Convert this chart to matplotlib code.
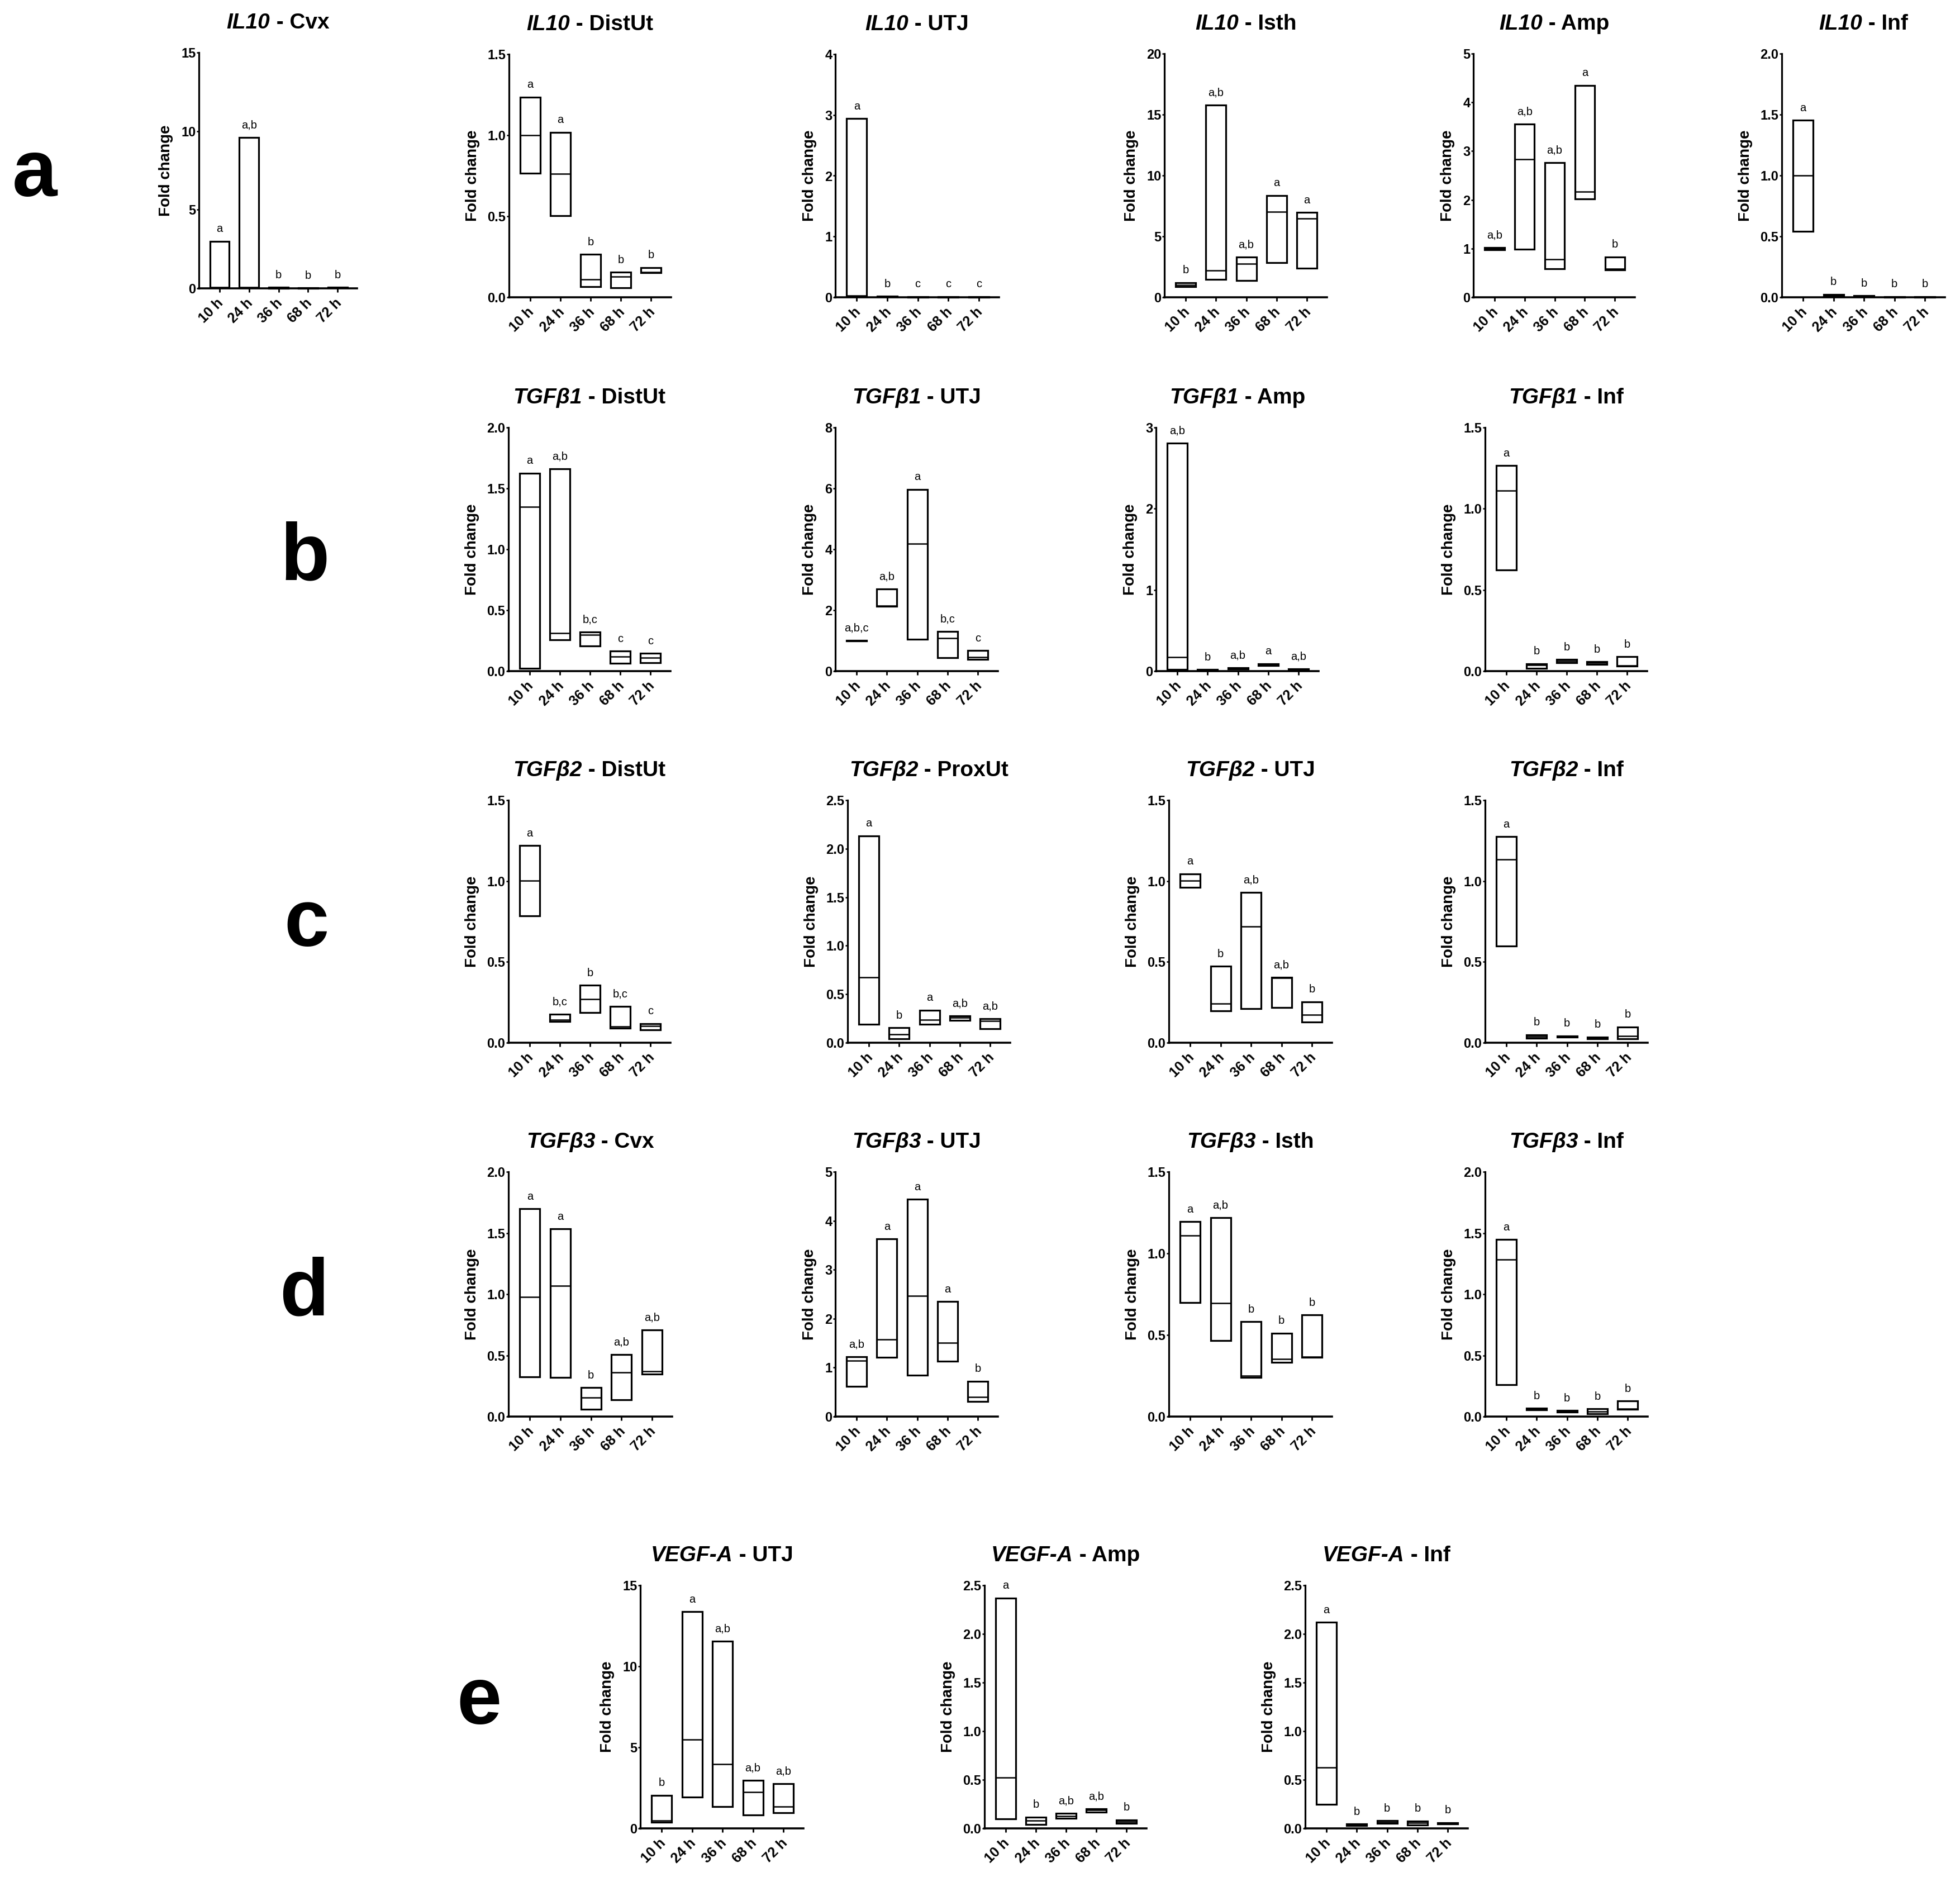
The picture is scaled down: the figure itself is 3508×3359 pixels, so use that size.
import numpy as np
import matplotlib
matplotlib.use('Agg')
import matplotlib.pyplot as plt
from matplotlib.patches import Rectangle
from matplotlib.transforms import ScaledTranslation

# ---------------- data ----------------
times = ['10 h', '24 h', '36 h', '68 h', '72 h']

il10_cvx_lo = [0.05, 0.05, 0.0, 0.01, 0.02]
il10_cvx_med = [0.08, 0.08, 0.02, 0.02, 0.04]
il10_cvx_hi = [3.0, 9.6, 0.06, 0.03, 0.06]
il10_cvx_sig = ['a', 'a,b', 'b', 'b', 'b']

il10_distut_lo = [0.766, 0.505, 0.064, 0.057, 0.150]
il10_distut_med = [1.0, 0.763, 0.112, 0.126, 0.155]
il10_distut_hi = [1.235, 1.018, 0.265, 0.155, 0.183]
il10_distut_sig = ['a', 'a', 'b', 'b', 'b']

il10_utj_lo = [0.01, 0.005, 0.004, 0.004, 0.004]
il10_utj_med = [0.03, 0.01, 0.008, 0.008, 0.008]
il10_utj_hi = [2.94, 0.015, 0.012, 0.012, 0.012]
il10_utj_sig = ['a', 'b', 'c', 'c', 'c']

il10_isth_lo = [0.85, 1.48, 1.39, 2.85, 2.38]
il10_isth_med = [1.0, 2.2, 2.76, 7.0, 6.49]
il10_isth_hi = [1.2, 15.8, 3.29, 8.37, 6.95]
il10_isth_sig = ['b', 'a,b', 'a,b', 'a', 'a']

il10_amp_lo = [0.97, 0.99, 0.585, 2.02, 0.56]
il10_amp_med = [1.0, 2.83, 0.78, 2.17, 0.59]
il10_amp_hi = [1.02, 3.56, 2.76, 4.35, 0.83]
il10_amp_sig = ['a,b', 'a,b', 'a,b', 'a', 'b']

il10_inf_lo = [0.542, 0.005, 0.004, 0.002, 0.002]
il10_inf_med = [1.0, 0.012, 0.008, 0.004, 0.004]
il10_inf_hi = [1.452, 0.025, 0.013, 0.006, 0.006]
il10_inf_sig = ['a', 'b', 'b', 'b', 'b']

tgfb1_distut_lo = [0.024, 0.259, 0.205, 0.065, 0.069]
tgfb1_distut_med = [1.347, 0.314, 0.296, 0.118, 0.111]
tgfb1_distut_hi = [1.625, 1.661, 0.319, 0.163, 0.145]
tgfb1_distut_sig = ['a', 'a,b', 'b,c', 'c', 'c']

tgfb1_utj_lo = [0.99, 2.125, 1.05, 0.435, 0.384]
tgfb1_utj_med = [1.0, 2.15, 4.18, 1.09, 0.457]
tgfb1_utj_hi = [1.01, 2.69, 5.97, 1.305, 0.674]
tgfb1_utj_sig = ['a,b,c', 'a,b', 'a', 'b,c', 'c']

tgfb1_amp_lo = [0.022, 0.008, 0.03, 0.07, 0.012]
tgfb1_amp_med = [0.172, 0.012, 0.035, 0.08, 0.018]
tgfb1_amp_hi = [2.81, 0.02, 0.04, 0.09, 0.025]
tgfb1_amp_sig = ['a,b', 'b', 'a,b', 'a', 'a,b']

tgfb1_inf_lo = [0.622, 0.018, 0.052, 0.042, 0.031]
tgfb1_inf_med = [1.111, 0.038, 0.063, 0.05, 0.035]
tgfb1_inf_hi = [1.266, 0.045, 0.072, 0.058, 0.089]
tgfb1_inf_sig = ['a', 'b', 'b', 'b', 'b']

tgfb2_distut_lo = [0.783, 0.132, 0.185, 0.09, 0.081]
tgfb2_distut_med = [1.003, 0.14, 0.269, 0.1, 0.104]
tgfb2_distut_hi = [1.219, 0.175, 0.355, 0.223, 0.118]
tgfb2_distut_sig = ['a', 'b,c', 'b', 'b,c', 'c']

tgfb2_proxut_lo = [0.192, 0.042, 0.192, 0.232, 0.146]
tgfb2_proxut_med = [0.673, 0.088, 0.234, 0.26, 0.223]
tgfb2_proxut_hi = [2.134, 0.153, 0.336, 0.274, 0.246]
tgfb2_proxut_sig = ['a', 'b', 'a', 'a,b', 'a,b']

tgfb2_utj_lo = [0.961, 0.197, 0.211, 0.218, 0.128]
tgfb2_utj_med = [1.004, 0.243, 0.718, 0.40, 0.174]
tgfb2_utj_hi = [1.044, 0.472, 0.928, 0.406, 0.253]
tgfb2_utj_sig = ['a', 'b', 'a,b', 'a,b', 'b']

tgfb2_inf_lo = [0.597, 0.028, 0.034, 0.025, 0.024]
tgfb2_inf_med = [1.132, 0.039, 0.038, 0.03, 0.042]
tgfb2_inf_hi = [1.274, 0.049, 0.042, 0.036, 0.097]
tgfb2_inf_sig = ['a', 'b', 'b', 'b', 'b']

tgfb3_cvx_lo = [0.326, 0.321, 0.06, 0.138, 0.349]
tgfb3_cvx_med = [0.978, 1.067, 0.157, 0.362, 0.368]
tgfb3_cvx_hi = [1.698, 1.534, 0.237, 0.507, 0.707]
tgfb3_cvx_sig = ['a', 'a', 'b', 'a,b', 'a,b']

tgfb3_utj_lo = [0.617, 1.206, 0.841, 1.131, 0.304]
tgfb3_utj_med = [1.136, 1.575, 2.463, 1.505, 0.397]
tgfb3_utj_hi = [1.224, 3.63, 4.44, 2.346, 0.724]
tgfb3_utj_sig = ['a,b', 'a', 'a', 'a', 'b']

tgfb3_isth_lo = [0.697, 0.466, 0.24, 0.331, 0.364]
tgfb3_isth_med = [1.108, 0.695, 0.25, 0.354, 0.367]
tgfb3_isth_hi = [1.195, 1.218, 0.581, 0.511, 0.623]
tgfb3_isth_sig = ['a', 'a,b', 'b', 'b', 'b']

tgfb3_inf_lo = [0.261, 0.055, 0.035, 0.024, 0.06]
tgfb3_inf_med = [1.285, 0.06, 0.04, 0.04, 0.065]
tgfb3_inf_hi = [1.447, 0.068, 0.048, 0.062, 0.127]
tgfb3_inf_sig = ['a', 'b', 'b', 'b', 'b']

vegfa_utj_lo = [0.38, 1.92, 1.33, 0.84, 0.955]
vegfa_utj_med = [0.49, 5.48, 3.96, 2.25, 1.36]
vegfa_utj_hi = [2.04, 13.37, 11.54, 2.95, 2.77]
vegfa_utj_sig = ['b', 'a', 'a,b', 'a,b', 'a,b']

vegfa_amp_lo = [0.098, 0.042, 0.105, 0.169, 0.054]
vegfa_amp_med = [0.522, 0.082, 0.129, 0.187, 0.07]
vegfa_amp_hi = [2.369, 0.117, 0.157, 0.204, 0.087]
vegfa_amp_sig = ['a', 'b', 'a,b', 'a,b', 'b']

vegfa_inf_lo = [0.246, 0.03, 0.05, 0.035, 0.048]
vegfa_inf_med = [0.627, 0.038, 0.065, 0.06, 0.053]
vegfa_inf_hi = [2.118, 0.045, 0.08, 0.077, 0.058]
vegfa_inf_sig = ['a', 'b', 'b', 'b', 'b']

# gene, tissue, lo, med, hi, sig, ymax, ystep
panels = [
    ('IL10', 'Cvx', il10_cvx_lo, il10_cvx_med, il10_cvx_hi, il10_cvx_sig, 15, 5),
    ('IL10', 'DistUt', il10_distut_lo, il10_distut_med, il10_distut_hi, il10_distut_sig, 1.5, 0.5),
    ('IL10', 'UTJ', il10_utj_lo, il10_utj_med, il10_utj_hi, il10_utj_sig, 4, 1),
    ('IL10', 'Isth', il10_isth_lo, il10_isth_med, il10_isth_hi, il10_isth_sig, 20, 5),
    ('IL10', 'Amp', il10_amp_lo, il10_amp_med, il10_amp_hi, il10_amp_sig, 5, 1),
    ('IL10', 'Inf', il10_inf_lo, il10_inf_med, il10_inf_hi, il10_inf_sig, 2.0, 0.5),
    ('TGF\u03b21', 'DistUt', tgfb1_distut_lo, tgfb1_distut_med, tgfb1_distut_hi, tgfb1_distut_sig, 2.0, 0.5),
    ('TGF\u03b21', 'UTJ', tgfb1_utj_lo, tgfb1_utj_med, tgfb1_utj_hi, tgfb1_utj_sig, 8, 2),
    ('TGF\u03b21', 'Amp', tgfb1_amp_lo, tgfb1_amp_med, tgfb1_amp_hi, tgfb1_amp_sig, 3, 1),
    ('TGF\u03b21', 'Inf', tgfb1_inf_lo, tgfb1_inf_med, tgfb1_inf_hi, tgfb1_inf_sig, 1.5, 0.5),
    ('TGF\u03b22', 'DistUt', tgfb2_distut_lo, tgfb2_distut_med, tgfb2_distut_hi, tgfb2_distut_sig, 1.5, 0.5),
    ('TGF\u03b22', 'ProxUt', tgfb2_proxut_lo, tgfb2_proxut_med, tgfb2_proxut_hi, tgfb2_proxut_sig, 2.5, 0.5),
    ('TGF\u03b22', 'UTJ', tgfb2_utj_lo, tgfb2_utj_med, tgfb2_utj_hi, tgfb2_utj_sig, 1.5, 0.5),
    ('TGF\u03b22', 'Inf', tgfb2_inf_lo, tgfb2_inf_med, tgfb2_inf_hi, tgfb2_inf_sig, 1.5, 0.5),
    ('TGF\u03b23', 'Cvx', tgfb3_cvx_lo, tgfb3_cvx_med, tgfb3_cvx_hi, tgfb3_cvx_sig, 2.0, 0.5),
    ('TGF\u03b23', 'UTJ', tgfb3_utj_lo, tgfb3_utj_med, tgfb3_utj_hi, tgfb3_utj_sig, 5, 1),
    ('TGF\u03b23', 'Isth', tgfb3_isth_lo, tgfb3_isth_med, tgfb3_isth_hi, tgfb3_isth_sig, 1.5, 0.5),
    ('TGF\u03b23', 'Inf', tgfb3_inf_lo, tgfb3_inf_med, tgfb3_inf_hi, tgfb3_inf_sig, 2.0, 0.5),
    ('VEGF-A', 'UTJ', vegfa_utj_lo, vegfa_utj_med, vegfa_utj_hi, vegfa_utj_sig, 15, 5),
    ('VEGF-A', 'Amp', vegfa_amp_lo, vegfa_amp_med, vegfa_amp_hi, vegfa_amp_sig, 2.5, 0.5),
    ('VEGF-A', 'Inf', vegfa_inf_lo, vegfa_inf_med, vegfa_inf_hi, vegfa_inf_sig, 2.5, 0.5),
]

# ---------------- layout (pixels: left, right, top, bottom) ----------------
W, H, DPI = 3508, 3359, 100
rows_px = [(96, 532), (765, 1201), (1432, 1866), (2097, 2535), (2837, 3272)]
layout = [
    (356, 639, 94, 516), (911, 1201, 97, 532), (1495, 1788, 97, 532),
    (2084, 2375, 96, 532), (2637, 2926, 96, 532), (3189, 3481, 96, 532),
    (910, 1200) + rows_px[1], (1495, 1786) + rows_px[1], (2069, 2360) + rows_px[1], (2658, 2948) + rows_px[1],
    (910, 1200) + rows_px[2], (1517, 1808) + rows_px[2], (2092, 2384) + rows_px[2], (2658, 2949) + rows_px[2],
    (910, 1203) + rows_px[3], (1495, 1786) + rows_px[3], (2092, 2384) + rows_px[3], (2658, 2949) + rows_px[3],
    (1146, 1438) + rows_px[4], (1762, 2052) + rows_px[4], (2336, 2627) + rows_px[4],
]
row_labels = [('a', 62, 314), ('b', 546, 1000), ('c', 548, 1655), ('d', 544, 2316), ('e', 858, 3047)]

plt.rcParams['font.family'] = ['Liberation Sans', 'DejaVu Sans']
fig = plt.figure(figsize=(W / DPI, H / DPI), dpi=DPI)
fig.patch.set_facecolor('white')

BW = 0.66
title_specs = []
for (gene, tissue, lo, med, hi, sig, ymax, ystep), (l, r, t, b) in zip(panels, layout):
    ax = fig.add_axes([l / W, 1 - b / H, (r - l) / W, (b - t) / H])
    ax.set_facecolor('none')
    for i in range(len(times)):
        ax.add_patch(Rectangle((i - BW / 2, lo[i]), BW, hi[i] - lo[i], fill=False,
                               ec='black', lw=2.3, joinstyle='miter', clip_on=False, zorder=3))
        ax.plot([i - BW / 2, i + BW / 2], [med[i], med[i]], color='black', lw=1.8,
                solid_capstyle='butt', clip_on=False, zorder=3)
        ax.annotate(sig[i], xy=(i, hi[i]), xytext=(0, 9), textcoords='offset points',
                    ha='center', va='bottom', fontsize=14.5, annotation_clip=False)
    ax.set_xlim(-0.7, 4.66)
    ax.set_ylim(0, ymax)
    for s in ('top', 'right'):
        ax.spines[s].set_visible(False)
    ax.spines['left'].set_linewidth(2.3)
    ax.spines['bottom'].set_linewidth(2.6)
    yt = np.arange(0, ymax + ystep / 2, ystep)
    ax.set_yticks(yt)
    if ystep >= 1:
        ax.set_yticklabels(['%d' % v for v in yt], fontweight='bold', fontsize=17)
    else:
        ax.set_yticklabels(['%.1f' % v for v in yt], fontweight='bold', fontsize=17)
    ax.set_xticks(range(len(times)))
    ax.set_xticklabels(times, rotation=45, ha='right', va='center', rotation_mode='anchor',
                       fontweight='bold', fontsize=18)
    ax.tick_params(axis='y', length=3, width=1.8, pad=1)
    ax.tick_params(axis='x', length=5, width=2.0, pad=11)
    off = ScaledTranslation(0.03, 0, fig.dpi_scale_trans)
    for lab in ax.get_xticklabels():
        lab.set_transform(lab.get_transform() + off)
    ax.set_ylabel('Fold change', fontsize=20, fontweight='bold', labelpad=10)
    title_specs.append(((l + r) / 2, t - 43, gene, tissue))

for lab, x, y in row_labels:
    fig.text(x / W, 1 - y / H, lab, fontsize=104, fontweight='bold', ha='center', va='center')

renderer = fig.canvas.get_renderer()
for cx, by, gene, tissue in title_specs:
    t1 = fig.text(0, 1 - by / H, gene, fontsize=28, fontweight='bold', fontstyle='italic',
                  ha='left', va='baseline')
    t2 = fig.text(0, 1 - by / H, ' - ' + tissue, fontsize=28, fontweight='bold',
                  ha='left', va='baseline')
    w1 = t1.get_window_extent(renderer).width
    w2 = t2.get_window_extent(renderer).width
    x0 = cx - (w1 + w2) / 2
    t1.set_x(x0 / W)
    t2.set_x((x0 + w1) / W)

fig.savefig('out.png', dpi=DPI, facecolor='white')
